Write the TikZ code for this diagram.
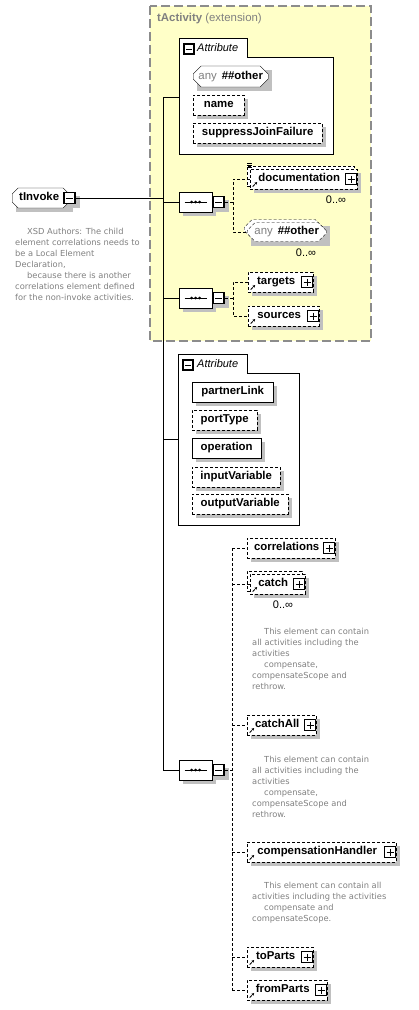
\documentclass[tikz,border=0pt]{standalone}
\usepackage{fontspec}
\setmainfont{Liberation Sans}
\newfontfamily\notefont{DejaVu Sans}
\usetikzlibrary{shapes.misc,arrows.meta}

\pgfdeclarelayer{back}
\pgfdeclarelayer{shade}
\pgfsetlayers{back,shade,main}

\definecolor{extfill}{RGB}{255,255,200}
\definecolor{extline}{RGB}{140,140,140}
\definecolor{shadowgray}{RGB}{192,192,192}
\definecolor{notegray}{RGB}{128,128,128}

\newcommand{\elemfont}{\fontsize{11.4}{13}\selectfont\bfseries}
\newcommand{\notetext}{\notefont\fontsize{8.3}{11}\selectfont}
\newcommand{\plusgap}{\kern9pt\relax}
\newcommand{\indentnote}{\hspace*{12pt}}

\tikzset{
  elem/.style={draw, fill=white, anchor=west, minimum height=20pt, inner xsep=0pt, inner ysep=0pt,
    font=\elemfont, text height=8.2pt, text depth=2.4pt},
  optional/.style={dash pattern=on 3pt off 2pt},
  multi/.style={preaction={draw, fill=white, dash pattern=on 3pt off 2pt, transform canvas={shift={(-3,-3)}}}},
  wildcard/.style={chamfered rectangle, chamfered rectangle xsep=4pt, chamfered rectangle ysep=4pt},
  ref/.style={path picture={\draw[black, line width=0.9pt, -{Triangle[length=2.5pt, width=2.5pt]}]
    ([shift={(2.5,-2.5)}]path picture bounding box.south west) -- ++(4.5,-4.5);}},
  expander/.style={draw, fill=white, line width=1.4pt, minimum size=11pt, inner sep=0pt,
    path picture={\draw[line width=1pt]
      ([xshift=2pt]path picture bounding box.west) -- ([xshift=-2pt]path picture bounding box.east)
      ([yshift=-2pt]path picture bounding box.north) -- ([yshift=2pt]path picture bounding box.south);}},
  collapser/.style={draw, fill=white, line width=1.4pt, minimum size=11pt, inner sep=0pt,
    path picture={\draw[line width=1pt]
      ([xshift=2pt]path picture bounding box.west) -- ([xshift=-2pt]path picture bounding box.east);}},
  seq/.style={draw, fill=white, anchor=west, chamfered rectangle, chamfered rectangle xsep=6pt,
    chamfered rectangle ysep=6pt, minimum width=33pt, minimum height=20pt, inner sep=0pt,
    path picture={
      \draw[black, line width=1pt] ([xshift=-11]path picture bounding box.center)
        -- ([xshift=11]path picture bounding box.center);
      \foreach \dx in {-4,0,4}
        \fill[black] ([xshift=\dx]path picture bounding box.center) circle[radius=1.5pt];}},
  grouplabel/.style={anchor=west, inner sep=0pt, font=\fontsize{11}{13}\selectfont\itshape},
  card/.style={anchor=center, inner sep=0pt, font=\fontsize{11}{13}\selectfont},
  note/.style={anchor=north west, align=left, inner sep=0pt, font=\notetext, text=notegray},
  conn/.style={line width=1pt},
  branch/.style={line width=1pt, dash pattern=on 3pt off 2pt}
}

\begin{document}
\begin{tikzpicture}[x=1pt, y=-1pt, line width=1pt]
\useasboundingbox (0,0) rectangle (418,1010);

% base type area and attribute groups
\begin{pgfonlayer}{back}
\fill[extfill] (150,6) rectangle (371,341);
\draw[extline, line width=1.2pt, dash pattern=on 9pt off 4pt] (150,6) rectangle (371,341);
\draw[fill=white] (179,38) -- (247,38) -- (247,57) -- (333,57) -- (333,154) -- (179,154) -- cycle;
\draw[fill=white] (178,354) -- (247,354) -- (247,373) -- (299,373) -- (299,525) -- (178,525) -- cycle;
\end{pgfonlayer}
\node[anchor=west, inner sep=0pt, text=notegray, font=\elemfont] (extTitle) at (157,19) {tActivity \mdseries(extension)};

\node[collapser, minimum size=10pt] (attrs1Col) at (189,49) {};
\node[grouplabel] (attrs1Label) at (197,48) {Attribute};
\coordinate (attrs1) at (179,97);

\node[collapser, minimum size=10pt] (attrs2Col) at (188,365) {};
\node[grouplabel] (attrs2Label) at (197,364) {Attribute};
\coordinate (attrs2) at (178,439);

% root element
\node[elem, wildcard, chamfered rectangle xsep=3pt, chamfered rectangle ysep=3pt, minimum width=57pt] (tInvoke) at (12,198) {tInvoke\kern3pt\relax};
\node[collapser] (tInvokeCol) at (tInvoke.east) {};
\node[note] (invokeNote) at (15,228) {\indentnote XSD Authors: The child\\element correlations needs to\\be a Local Element\\Declaration,\\\indentnote because there is another\\correlations element defined\\for the non-invoke activities.};

% inherited attributes
\node[elem, wildcard, minimum width=75pt, minimum height=21pt] (anyAttr) at (193,76.5) {\textcolor{notegray}{\mdseries any}\hspace{5pt}\#\#other};
\node[elem, optional, minimum width=51pt] (nameAttr) at (193,105) {name};
\node[elem, optional, minimum width=129pt] (suppressJoinFailure) at (193,133) {suppressJoinFailure};

% inherited sequences
\node[seq] (seq1) at (179,202) {};
\node[collapser, anchor=west] (seq1Col) at (seq1.east) {};
\node[elem, optional, multi, ref, minimum width=107pt] (documentation) at (250,179) {documentation\plusgap};
\node[elem, optional, multi, wildcard, minimum width=79pt, minimum height=19pt] (anyOther) at (247,232) {\textcolor{notegray}{\mdseries any}\hspace{5pt}\#\#other};
\node[card] (documentationMax) at (336,200) {0..∞};
\node[card] (anyOtherMax) at (306,253) {0..∞};
\foreach \d in {1.5,3.5,5.5}
  \draw[line width=0.6pt] ([shift={(-3,-\d)}]documentation.north west) -- ++(5,0);

\node[seq] (seq2) at (179,298) {};
\node[collapser, anchor=west] (seq2Col) at (seq2.east) {};
\node[elem, optional, ref, minimum width=65pt] (targets) at (248,282) {targets\plusgap};
\node[elem, optional, ref, minimum width=71pt] (sources) at (248,316) {sources\plusgap};

% own attributes
\node[elem, minimum width=81pt] (partnerLink) at (192,392) {partnerLink};
\node[elem, optional, minimum width=65pt] (portType) at (192,420) {portType};
\node[elem, minimum width=69pt] (operation) at (192,448) {operation};
\node[elem, optional, minimum width=88pt] (inputVariable) at (192,477) {inputVariable};
\node[elem, optional, minimum width=96pt] (outputVariable) at (192,504) {outputVariable};

% own sequence
\node[seq] (seq3) at (179,770) {};
\node[collapser, anchor=west] (seq3Col) at (seq3.east) {};
\node[elem, optional, minimum width=88pt] (correlations) at (247,548) {correlations\plusgap};
\node[elem, optional, multi, ref, minimum width=55pt] (catch) at (250,584) {catch\plusgap};
\node[card] (catchMax) at (283,605) {0..∞};
\node[note] (catchNote) at (252,628) {\indentnote This element can contain\\all activities including the\\activities\\\indentnote compensate,\\compensateScope and\\rethrow.};
\node[elem, optional, ref, minimum width=69pt] (catchAll) at (247,725) {catchAll\plusgap};
\node[note] (catchAllNote) at (252,756) {\indentnote This element can contain\\all activities including the\\activities\\\indentnote compensate,\\compensateScope and\\rethrow.};
\node[elem, optional, ref, minimum width=149pt] (compensationHandler) at (247,852) {compensationHandler\plusgap};
\node[note] (compensationHandlerNote) at (252,882) {\indentnote This element can contain all\\activities including the activities\\\indentnote compensate and\\compensateScope.};
\node[elem, optional, ref, minimum width=66pt] (toParts) at (247,957) {toParts\plusgap};
\node[elem, optional, ref, minimum width=80pt] (fromParts) at (247,990) {fromParts\plusgap};

\foreach \n in {documentation,targets,sources,correlations,catch,catchAll,compensationHandler,toParts,fromParts}
  \node[expander, anchor=east] (\n Exp) at (\n.east) {};

% shadows
\begin{pgfonlayer}{shade}
\foreach \n in {tInvoke,tInvokeCol,anyAttr,nameAttr,suppressJoinFailure,seq1,seq2,seq3,seq1Col,seq2Col,seq3Col,
    documentation,anyOther,targets,sources,partnerLink,portType,operation,inputVariable,outputVariable,
    correlations,catch,catchAll,compensationHandler,toParts,fromParts}
  \fill[shadowgray] ([shift={(4,4)}]\n.north -| \n.west) rectangle ([shift={(4,4)}]\n.south -| \n.east);
\end{pgfonlayer}

% connectors
\coordinate (trunk) at (163,0);
\draw[conn] (tInvokeCol.east) -- (tInvokeCol.east -| trunk);
\draw[conn] (attrs1) -- (attrs1 -| trunk) -- (seq3.west -| trunk) -- (seq3.west);
\draw[conn] (seq1.west -| trunk) -- (seq1.west);
\draw[conn] (seq2.west -| trunk) -- (seq2.west);
\draw[conn] (attrs2 -| trunk) -- (attrs2);

\coordinate (fork1) at (233,0);
\draw[branch] (seq1Col.east) -- (seq1Col.east -| fork1);
\draw[branch] (documentation.west) -| (fork1 |- anyOther.west) -- (anyOther.west);
\draw[branch] (seq2Col.east) -- (seq2Col.east -| fork1);
\draw[branch] (targets.west) -| (fork1 |- sources.west) -- (sources.west);

\coordinate (fork3) at (232,0);
\draw[branch] (seq3Col.east) -- (seq3Col.east -| fork3);
\draw[branch] (correlations.west -| fork3) -- (fromParts.west -| fork3);
\foreach \n in {correlations,catch,catchAll,compensationHandler,toParts,fromParts}
  \draw[branch] (\n.west -| fork3) -- (\n.west);
\end{tikzpicture}
\end{document}
